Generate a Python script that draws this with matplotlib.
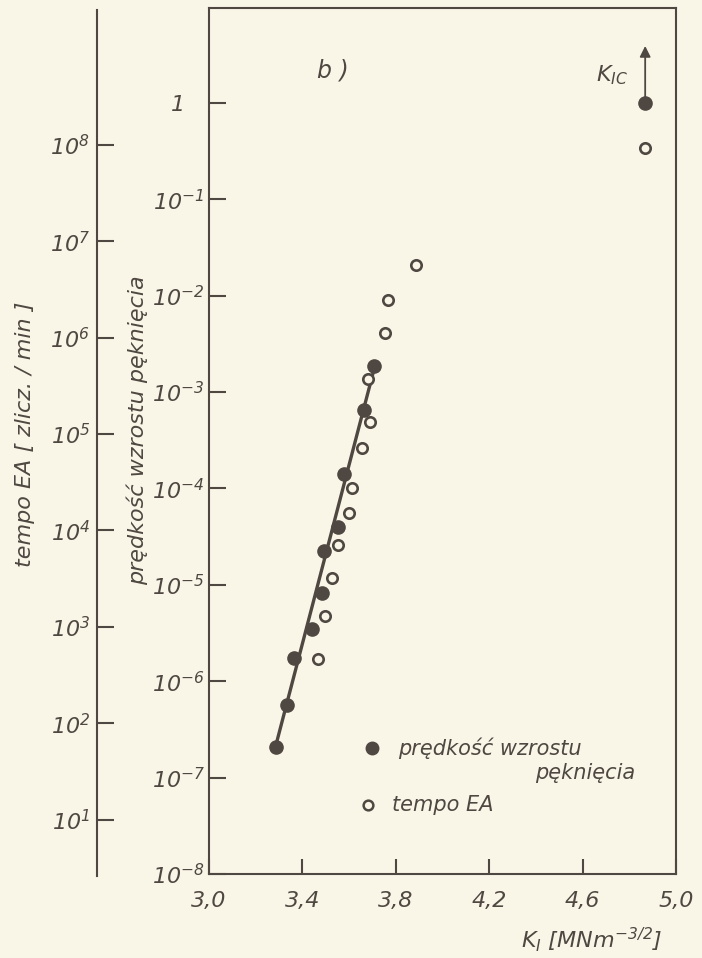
import numpy as np
import matplotlib
matplotlib.use("Agg")
import matplotlib.pyplot as plt
from matplotlib.ticker import FixedLocator, FixedFormatter, NullLocator
from matplotlib.lines import Line2D

plt.rcParams['font.family'] = ['DejaVu Sans']
plt.rcParams['font.style'] = 'italic'
plt.rcParams['mathtext.fontset'] = 'custom'
plt.rcParams['mathtext.rm'] = 'DejaVu Sans:italic'
plt.rcParams['mathtext.it'] = 'DejaVu Sans:italic'
plt.rcParams['mathtext.sf'] = 'DejaVu Sans:italic'

# ---- data ----
k_fill = [3.286, 3.332, 3.363, 3.443, 3.486, 3.494, 3.554, 3.578, 3.665, 3.708, 4.868]
v_fill = [2.1e-7, 5.7e-7, 1.74e-6, 3.5e-6, 8.2e-6, 2.27e-5, 4.0e-5, 1.41e-4, 6.5e-4, 1.88e-3, 1.0]

k_open = [3.465, 3.496, 3.525, 3.551, 3.600, 3.614, 3.654, 3.690, 3.682, 3.754, 3.768, 3.888, 4.868]
v_open = [1.7e-6, 4.7e-6, 1.17e-5, 2.6e-5, 5.5e-5, 1.02e-4, 2.6e-4, 4.9e-4, 1.37e-3, 4.1e-3, 9.1e-3, 2.1e-2, 0.34]

fit_k = [3.285, 3.716]
fit_v = [2.1e-7, 2.1e-3]

kic_k = 4.868
kic_arrow_v = [1.0, 3.9]

x_ticks = [3.0, 3.4, 3.8, 4.2, 4.6, 5.0]
x_labels = ['3,0', '3,4', '3,8', '4,2', '4,6', '5,0']
y_exps = [-8, -7, -6, -5, -4, -3, -2, -1, 0]
y_labels = [r'$10^{-8}$', r'$10^{-7}$', r'$10^{-6}$', r'$10^{-5}$', r'$10^{-4}$',
            r'$10^{-3}$', r'$10^{-2}$', r'$10^{-1}$', '1']
ea_exps = [1, 2, 3, 4, 5, 6, 7, 8]
ea_labels = [r'$10^{%d}$' % e for e in ea_exps]
ea_shift = 10 ** 8.415   # tempo EA = velocity * shift

# ---- style ----
bg = '#f9f6e7'
ink = '#4f4842'
W, H = 702, 958

fig = plt.figure(figsize=(W / 100, H / 100), dpi=100)
fig.patch.set_facecolor(bg)

ax = fig.add_axes([209 / W, 84 / H, (676 - 209) / W, (874 - 8) / H])
ax.set_facecolor(bg)
ax.set_xlim(3.0, 5.0)
ax.set_yscale('log')
ax.set_ylim(1e-8, 10 ** 0.985)

for s in ax.spines.values():
    s.set_color(ink)
    s.set_linewidth(1.5)

ax.xaxis.set_major_locator(FixedLocator(x_ticks))
ax.xaxis.set_major_formatter(FixedFormatter(x_labels))
ax.xaxis.set_minor_locator(NullLocator())
ax.yaxis.set_major_locator(FixedLocator([10.0 ** e for e in y_exps]))
ax.yaxis.set_major_formatter(FixedFormatter(y_labels))
ax.yaxis.set_minor_locator(NullLocator())
ax.tick_params(axis='x', direction='in', length=11, width=1.5, color=ink,
               labelsize=16, labelcolor=ink, pad=12)
ax.tick_params(axis='y', direction='in', length=12, width=1.5, color=ink,
               labelsize=16, labelcolor=ink, pad=22)
for lab in ax.get_yticklabels():
    lab.set_horizontalalignment('center')

# data
ax.plot(fit_k, fit_v, color=ink, lw=2.4, solid_capstyle='butt', zorder=2)
ax.plot(k_fill, v_fill, 'o', ms=9.5, color=ink, mec=ink, zorder=3)
ax.plot(k_open, v_open, 'o', ms=7.5, mfc=bg, mec=ink, mew=1.9, zorder=3)

ax.annotate('', xy=(kic_k, kic_arrow_v[1]), xytext=(kic_k, kic_arrow_v[0]),
            arrowprops=dict(arrowstyle='-|>', color=ink, lw=1.3, mutation_scale=16,
                            shrinkA=0, shrinkB=0))
ax.text(0.863, 0.922, r'$K_{IC}$', transform=ax.transAxes, fontsize=16,
        color=ink, ha='center', va='center')
ax.text(0.266, 0.928, 'b )', transform=ax.transAxes, fontsize=17,
        color=ink, ha='center', va='center')

# manual legend
ax.plot([0.349], [0.1455], 'o', ms=9, color=ink, transform=ax.transAxes, clip_on=False)
ax.text(0.405, 0.1455, 'prędkość wzrostu', transform=ax.transAxes, fontsize=15,
        color=ink, ha='left', va='center')
ax.text(0.912, 0.1166, 'pęknięcia', transform=ax.transAxes, fontsize=15,
        color=ink, ha='right', va='center')
ax.plot([0.340], [0.0797], 'o', ms=7, mfc=bg, mec=ink, mew=1.8,
        transform=ax.transAxes, clip_on=False)
ax.text(0.392, 0.0797, 'tempo EA', transform=ax.transAxes, fontsize=15,
        color=ink, ha='left', va='center')

# secondary (tempo EA) axis
ax2 = fig.add_axes([97 / W, 82 / H, 0.01, (874 - 8) / H])
ax2.set_facecolor('none')
ax2.set_yscale('log')
lo, hi = ax.get_ylim()
ax2.set_ylim(lo * ea_shift, hi * ea_shift)
for k in ['top', 'right', 'bottom']:
    ax2.spines[k].set_visible(False)
ax2.spines['left'].set_color(ink)
ax2.spines['left'].set_linewidth(1.5)
ax2.set_xticks([])
ax2.yaxis.set_major_locator(FixedLocator([10.0 ** e for e in ea_exps]))
ax2.yaxis.set_major_formatter(FixedFormatter(ea_labels))
ax2.yaxis.set_minor_locator(NullLocator())
ax2.tick_params(axis='y', direction='in', length=12, width=1.5, color=ink,
                labelsize=16, labelcolor=ink, pad=5)

# axis titles
fig.text(137 / W, 1 - 430 / H, 'prędkość wzrostu pęknięcia', rotation=90,
         fontsize=16, color=ink, ha='center', va='center')
fig.text(25 / W, 1 - 434 / H, 'tempo EA [ zlicz. / min ]', rotation=90,
         fontsize=16, color=ink, ha='center', va='center')
fig.text(592 / W, 1 - 940 / H, r'$K_I$ [MNm$^{-3/2}$]', fontsize=16,
         color=ink, ha='center', va='center')

fig.savefig('out.png', dpi=100, facecolor=bg)
